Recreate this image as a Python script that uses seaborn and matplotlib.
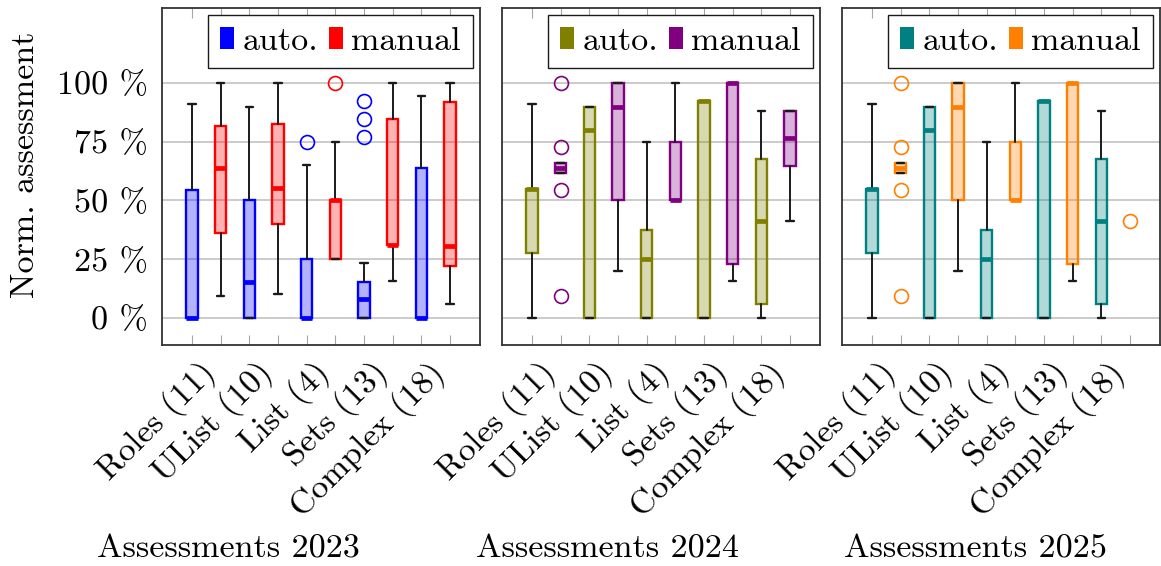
import numpy as np
import matplotlib
matplotlib.use("Agg")
import matplotlib.pyplot as plt
import matplotlib.transforms as mtransforms
from matplotlib.patches import Patch
import seaborn as sns

categories = ["Roles (11)", "UList (10)", "List (4)", "Sets (13)", "Complex (18)"]
years = ["2023", "2024", "2025"]
yticks = [0, 25, 50, 75, 100]
ytick_labels = ["0 %", "25 %", "50 %", "75 %", "100 %"]

# (whislo, q1, median, q3, whishi) per category, in percent
auto_2023 = [(0, 0, 0, 54.4, 90.9), (0, 0, 15.1, 50, 89.8), (0, 0, 0, 25, 65.1),
             (0, 0, 7.8, 15.1, 23.2), (0, 0, 0, 63.9, 94.5)]
auto_2023_out = [[], [], [75], [92.2, 84.5, 76.8], []]
manual_2023 = [(9.1, 36.2, 63.6, 81.8, 100), (10.1, 39.9, 55.1, 82.5, 100), (25, 25, 50, 50, 75),
               (15.6, 31, 31, 84.7, 100), (5.7, 22, 30.7, 91.8, 100)]
manual_2023_out = [[], [], [100], [], []]

auto_2024 = [(0, 27.4, 54.7, 54.7, 90.9), (0, 0, 80, 89.9, 89.9), (0, 0, 25, 37.4, 75),
             (0, 0, 92.5, 92.5, 92.5), (0, 5.8, 41.3, 67.6, 88.1)]
auto_2024_out = [[], [], [], [], []]
manual_2024 = [(61.5, 61.5, 63.6, 65.8, 65.8), (20, 50, 89.9, 100, 100), (50, 50, 50, 75, 100),
               (15.5, 23, 100, 100, 100), (41.2, 64.5, 76.4, 88.1, 88.1)]
manual_2024_out = [[100, 72.6, 54.4, 9.2], [], [], [], []]

auto_2025 = [(0, 27.4, 54.7, 54.7, 90.9), (0, 0, 80, 89.9, 89.9), (0, 0, 25, 37.4, 75),
             (0, 0, 92.5, 92.5, 92.5), (0, 5.8, 41.3, 67.6, 88.1)]
auto_2025_out = [[], [], [], [], []]
manual_2025 = [(61.5, 61.5, 63.6, 65.8, 65.8), (20, 50, 89.9, 100, 100), (50, 50, 50, 75, 100),
               (15.5, 23, 100, 100, 100), None]
manual_2025_out = [[100, 72.6, 54.4, 9.2], [], [], [], [41.2]]

colors = {
    "2023": ("#0000ff", "#ff0000"),
    "2024": ("#808000", "#800080"),
    "2025": ("#008080", "#ff8000"),
}
series = {
    "2023": (auto_2023, auto_2023_out, manual_2023, manual_2023_out),
    "2024": (auto_2024, auto_2024_out, manual_2024, manual_2024_out),
    "2025": (auto_2025, auto_2025_out, manual_2025, manual_2025_out),
}

sns.set_theme(style="whitegrid")
plt.rcParams["font.family"] = ["cmr10", "DejaVu Serif"]
plt.rcParams["axes.unicode_minus"] = False
plt.rcParams["axes.formatter.use_mathtext"] = True
plt.rcParams["text.color"] = "black"
plt.rcParams["ytick.labelcolor"] = "black"
FS = 24.5

W, H = 1161, 566
fig = plt.figure(figsize=(W / 100, H / 100), dpi=100)
lefts = [162, 502, 842]
ax_w, top_px, bot_px = 318, 8, 345
title_x = [228, 608, 975]


def draw(ax, rows, outs, pos, color):
    stats, ps = [], []
    for r, o, p in zip(rows, outs, pos):
        if r is None:
            ax.plot([p] * len(o), o, ls="none", marker="o", mfc="none", mec=color, ms=10, mew=1.2, zorder=3)
            continue
        lo, q1, med, q3, hi = r
        stats.append(dict(whislo=lo, q1=q1, med=med, q3=q3, whishi=hi, fliers=o))
        ps.append(p)
    ax.bxp(stats, positions=ps, widths=0.4, capwidths=0.25, patch_artist=True, manage_ticks=False,
           boxprops=dict(facecolor=matplotlib.colors.to_rgba(color, 0.3), edgecolor=color, lw=1.7),
           medianprops=dict(color=color, lw=3.4, solid_capstyle="butt"),
           whiskerprops=dict(color="k", lw=1.4),
           capprops=dict(color="k", lw=1.7),
           flierprops=dict(marker="o", mfc="none", mec=color, ms=10, mew=1.2))


for i, yr in enumerate(years):
    ax = fig.add_axes([lefts[i] / W, 1 - bot_px / H, ax_w / W, (bot_px - top_px) / H])
    a_rows, a_out, m_rows, m_out = series[yr]
    c_auto, c_man = colors[yr]
    draw(ax, a_rows, a_out, [1, 3, 5, 7, 9], c_auto)
    draw(ax, m_rows, m_out, [2, 4, 6, 8, 10], c_man)

    ax.set_xlim(-0.046, 11.046)
    ax.set_ylim(-11.63, 131.96)
    ax.set_xticks(range(1, 11))
    ax.set_xticklabels([])
    ax.tick_params(axis="x", which="both", direction="in", top=True, bottom=True,
                   length=7, width=0.8, color="0.65")
    ax.grid(False, axis="x")
    ax.grid(True, axis="y", color="0.78", lw=1.3)
    ax.set_yticks(yticks)
    if i == 0:
        ax.set_yticklabels(ytick_labels, fontsize=FS)
        ax.tick_params(axis="y", length=0, pad=10)
    else:
        ax.set_yticklabels([])
        ax.tick_params(axis="y", length=0)
    for s in ax.spines.values():
        s.set_color("0.2")
        s.set_linewidth(1.3)

    off = mtransforms.ScaledTranslation(0.18, -0.23, fig.dpi_scale_trans)
    tr = mtransforms.blended_transform_factory(ax.transData, ax.transAxes) + off
    for k, cat in enumerate(categories):
        ax.text(1 + 2 * k, 0, cat, transform=tr, rotation=45, rotation_mode="anchor",
                ha="right", va="center", fontsize=FS)

    handles = [Patch(facecolor=c_auto, edgecolor="none"), Patch(facecolor=c_man, edgecolor="none")]
    leg = ax.legend(handles, ["auto.", "manual"], loc="upper right", ncol=2, fontsize=FS,
                    frameon=True, fancybox=False, framealpha=1, edgecolor="k",
                    borderaxespad=0.2, borderpad=0.36, handlelength=0.42, handleheight=0.6,
                    handletextpad=0.25, columnspacing=0.3)
    leg.get_frame().set_linewidth(1.0)
    leg.set_zorder(10)

    fig.text(title_x[i] / W, 1 - 557 / H, f"Assessments {yr}", ha="center", va="baseline", fontsize=FS)

fig.text(25 / W, 1 - 165 / H, "Norm. assessment", rotation=90, ha="center", va="center", fontsize=FS)

fig.savefig("out.png", dpi=100)
